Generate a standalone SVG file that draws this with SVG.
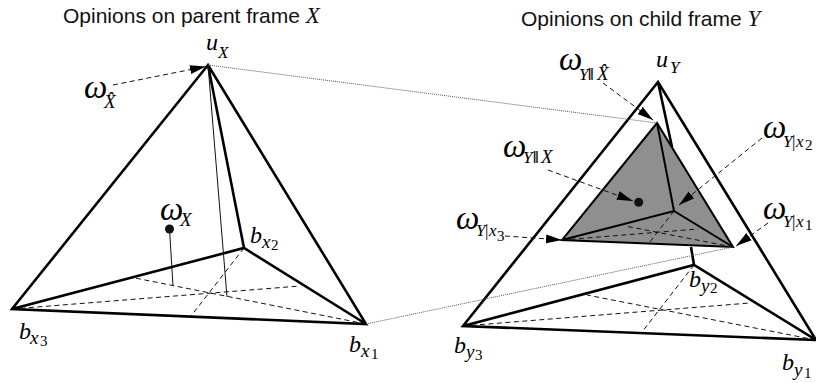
<svg xmlns="http://www.w3.org/2000/svg" width="816" height="383" viewBox="0 0 816 383">
<style>
text{font-family:"Liberation Serif","Times New Roman",serif;font-style:italic;fill:#000}
.title{font-family:"Liberation Sans",Arial,sans-serif;font-style:normal;font-size:21px;fill:#111}
.tv{font-family:"Liberation Serif",serif;font-style:italic;font-size:23px}
.om{font-size:33px}
.v{font-size:24px}
.s{font-size:19px}
.ss{font-size:17px}
.sn{font-size:15px;font-style:normal}
.bar{font-size:17px;font-style:normal}
.bb{font-size:17px;font-style:normal;font-weight:bold}
.b{fill:none;stroke:#000;stroke-width:2.600}
.m{fill:none;stroke:#000;stroke-width:2}
.thin{fill:none;stroke:#111;stroke-width:1}
.d{fill:none;stroke:#111;stroke-width:1;stroke-dasharray:5 3.500}
.dot{fill:none;stroke:#555;stroke-width:1;stroke-dasharray:1 1}
.a{fill:none;stroke:#111;stroke-width:1;stroke-dasharray:5 3.500;marker-end:url(#ah)}
</style>
<defs>
<marker id="ah" markerUnits="userSpaceOnUse" markerWidth="18" markerHeight="12" refX="16" refY="5" orient="auto"><path d="M0 0.500L16 5L0 9.500Z" fill="#000"/></marker>
</defs>
<g id="titles">
<text x="63" y="23" class="title">Opinions on parent frame <tspan class="tv">X</tspan></text>
<text x="521" y="26" class="title">Opinions on child frame <tspan class="tv">Y</tspan></text>
</g>
<g id="parent-frame">
<path class="d" d="M12 309L300 286M366 324L135 278M244 248L191 316"/>
<path class="b" d="M208 65L12 309L366 324ZM208 65L244 248M12 309L244 248L366 324"/>
<path class="thin" d="M208 65L227 297M169.500 229L173 286"/>
<circle cx="169.500" cy="229" r="4.500" fill="#111"/>
</g>
<g id="child-frame">
<path class="d" d="M463 326L750 303M816 340L587 295M694 265L642 332"/>
<path class="b" d="M658 82L463 326L816 340ZM658 82L672 147M691 247L694 265M463 326L694 265L816 340"/>
</g>
<g id="child-inner">
<path d="M657 123L562 240L733 247Z" fill="#8f8f8f"/>
<path d="M657 123L562 240L733 247Z" class="m"/>
<path class="d" d="M562 240L698 229M733 247L625 226M674 211L649 243"/>
<path class="m" d="M657 123L674 211M562 240L674 211L733 247"/>
<circle cx="638.700" cy="202.300" r="4.500" fill="#111"/>
</g>
<g id="connectors">
<path class="dot" d="M208 65L657 123M366 324L733 247"/>
<path class="a" d="M113 85L206 66.500"/>
<path class="a" d="M603 83L653 120"/>
<path class="a" d="M548 170L633 201"/>
<path class="a" d="M762 138L679 205"/>
<path class="a" d="M768 223L736 246"/>
<path class="a" d="M505 236L562 240"/>
</g>
<g id="label-omega-xhat"><text class="om" x="84" y="98">ω<tspan class="s" x="104" y="108">X̂</tspan></text></g>
<g id="label-ux"><text class="v" x="206" y="50">u<tspan class="ss" x="218" y="58">X</tspan></text></g>
<g id="label-omega-x"><text class="om" x="160" y="220">ω<tspan class="s" x="180" y="226">X</tspan></text></g>
<g id="label-bx2"><text class="v" x="250" y="243">b<tspan class="s" x="262" y="248">x</tspan><tspan class="sn" x="271" y="250">2</tspan></text></g>
<g id="label-bx3"><text class="v" x="19" y="339">b<tspan class="s" x="30" y="344">x</tspan><tspan class="sn" x="40" y="346">3</tspan></text></g>
<g id="label-bx1"><text class="v" x="349" y="352">b<tspan class="s" x="361" y="357">x</tspan><tspan class="sn" x="371" y="359">1</tspan></text></g>
<g id="label-uy"><text class="v" x="656" y="67">u<tspan class="ss" x="670" y="73">Y</tspan></text></g>
<g id="label-omega-yxhat"><text class="om" x="559" y="70">ω<tspan class="ss" x="579" y="80">Y</tspan><tspan class="bb" x="588" y="80">‖</tspan><tspan class="s" x="597" y="80">X̂</tspan></text></g>
<g id="label-omega-yx"><text class="om" x="503" y="157">ω<tspan class="ss" x="523" y="163">Y</tspan><tspan class="bb" x="533" y="163">‖</tspan><tspan class="s" x="541" y="163">X</tspan></text></g>
<g id="label-omega-yx2"><text class="om" x="763" y="138">ω<tspan class="ss" x="783" y="147">Y</tspan><tspan class="bar" x="792" y="147">|</tspan><tspan class="ss" x="796" y="147">x</tspan><tspan class="sn" x="805" y="150">2</tspan></text></g>
<g id="label-omega-yx1"><text class="om" x="763" y="219">ω<tspan class="ss" x="783" y="227">Y</tspan><tspan class="bar" x="792" y="227">|</tspan><tspan class="ss" x="796" y="227">x</tspan><tspan class="sn" x="805" y="230">1</tspan></text></g>
<g id="label-omega-yx3"><text class="om" x="456" y="229">ω<tspan class="ss" x="476" y="236">Y</tspan><tspan class="bar" x="485" y="236">|</tspan><tspan class="ss" x="489" y="236">x</tspan><tspan class="sn" x="497" y="241">3</tspan></text></g>
<g id="label-by2"><text class="v" x="689" y="287">b<tspan class="s" x="701" y="292">y</tspan><tspan class="sn" x="710" y="293">2</tspan></text></g>
<g id="label-by3"><text class="v" x="454" y="353">b<tspan class="s" x="466" y="358">y</tspan><tspan class="sn" x="475" y="360">3</tspan></text></g>
<g id="label-by1"><text class="v" x="782" y="370">b<tspan class="s" x="794" y="376">y</tspan><tspan class="sn" x="804" y="378">1</tspan></text></g>
</svg>
